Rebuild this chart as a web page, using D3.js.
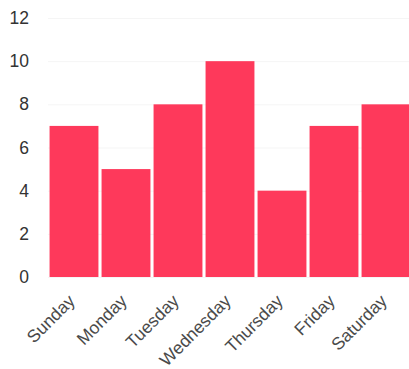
<!DOCTYPE html>
<html>
<head>
<meta charset="utf-8">
<script src="https://cdn.jsdelivr.net/npm/d3@7"></script>
<style>
  body { margin: 0; background: #fff; }
  svg { display: block; font-family: "Liberation Sans", Arial, sans-serif; }
</style>
</head>
<body>
<div id="chart"></div>
<script>
// Data
let days = ["Sunday", "Monday", "Tuesday", "Wednesday", "Thursday", "Friday", "Saturday"];
let counts = [7, 5, 8, 10, 4, 7, 8];
let yTicks = [0, 2, 4, 6, 8, 10, 12];

// Svg defs
let w = 409,
    h = 369;
let m = { top: 18, right: -3, bottom: 92, left: 48 };

let svg = d3.select("#chart")
  .append("svg")
  .attr("width", w)
  .attr("height", h)
  .attr("viewBox", [0, 0, w, h]);

let x = d3.scaleBand()
  .domain(days)
  .range([m.left, w - m.right])
  .paddingInner(0.06)
  .paddingOuter(0.03);

let y = d3.scaleLinear()
  .domain([0, 12])
  .range([h - m.bottom, m.top]);

// Faint grid
svg.append("g")
  .selectAll("line")
  .data(yTicks)
  .join("line")
  .attr("x1", m.left)
  .attr("x2", w)
  .attr("y1", (d) => y(d) + 0.5)
  .attr("y2", (d) => y(d) + 0.5)
  .attr("stroke", "#f5f5f5");

// Bars
svg.append("g")
  .selectAll("rect")
  .data(days)
  .join("rect")
  .attr("x", (d) => x(d))
  .attr("y", (d, i) => y(counts[i]))
  .attr("width", x.bandwidth())
  .attr("height", (d, i) => y(0) - y(counts[i]))
  .attr("fill", "#fe395b");

// Y axis
let yAxis = svg.append("g")
  .attr("transform", `translate(${m.left - 19},0)`)
  .call(d3.axisLeft(y).tickValues(yTicks).tickSize(0).tickPadding(0));
yAxis.select(".domain").remove();
yAxis.selectAll("text")
  .attr("font-size", 17.5)
  .attr("fill", "#333")
  .attr("font-family", "Liberation Sans, Arial, sans-serif");

// X axis
let xAxis = svg.append("g")
  .attr("transform", `translate(0,${h - m.bottom})`)
  .call(d3.axisBottom(x).tickSize(0).tickPadding(0));
xAxis.select(".domain").remove();
xAxis.selectAll("text")
  .attr("font-size", 17.5)
  .attr("fill", "#4a4a4a")
  .attr("font-family", "Liberation Sans, Arial, sans-serif")
  .attr("text-anchor", "end")
  .attr("dy", 0)
  .attr("transform", "translate(2,25) rotate(-45)");
</script>
</body>
</html>
